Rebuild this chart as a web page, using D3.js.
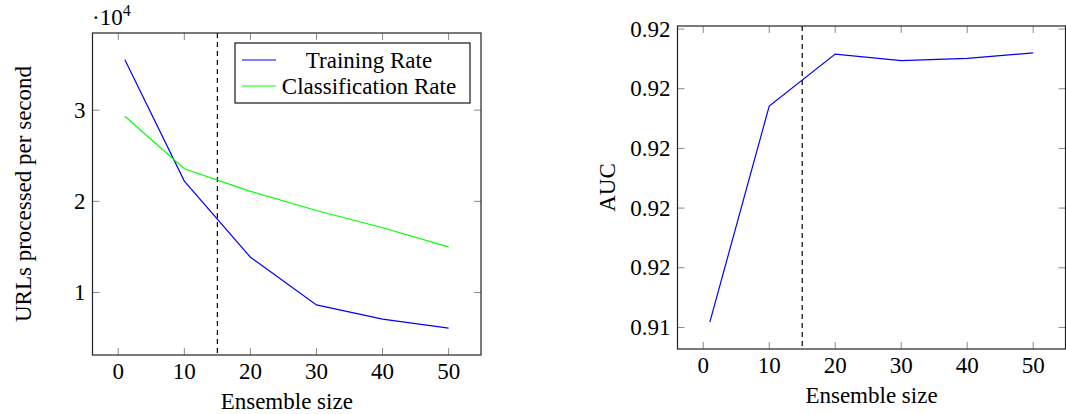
<!DOCTYPE html>
<html>
<head>
<meta charset="utf-8">
<script src="https://cdn.jsdelivr.net/npm/d3@7"></script>
<style>
  body { margin: 0; background: #fff; }
</style>
</head>
<body>
<svg id="chart" width="1066" height="414"></svg>
<script>
// data
const ensembleSizes = [1, 10, 20, 30, 40, 50];
const trainingRate = [35520, 22220, 13870, 8640, 7080, 6090];
const classificationRate = [29340, 23580, 21100, 19000, 17100, 15000];
const auc = [0.91409, 0.91771, 0.91858, 0.91847, 0.91851, 0.91860];
const selectedSize = 15;

const xTicks = [0, 10, 20, 30, 40, 50];
const rateTicks = [10000, 20000, 30000];
const rateTickLabels = ["1", "2", "3"];
const aucTicks = [0.914, 0.915, 0.916, 0.917, 0.918, 0.919];
const aucTickLabels = ["0.91", "0.92", "0.92", "0.92", "0.92", "0.92"];

const fontFamily = "Liberation Serif";
const fontSize = 23;
const tickLen = 7;
const svg = d3.select("#chart")
  .attr("font-family", fontFamily)
  .attr("font-size", fontSize);

// pgfplots style: 10% enlargement on both sides
function enlarge(ext) {
  const r = ext[1] - ext[0];
  return [ext[0] - 0.1 * r, ext[1] + 0.1 * r];
}

function label(sel) {
  return sel.append("text")
    .attr("font-family", fontFamily)
    .attr("font-size", fontSize)
    .attr("fill", "#000");
}

function drawPanel(box, series, yTicks, yTickLabels, yLabel, yLabelX) {
  const g = svg.append("g");
  const x = d3.scaleLinear()
    .domain(enlarge(d3.extent(ensembleSizes)))
    .range([box.left, box.right]);
  const allY = series.flatMap(s => s.values);
  const y = d3.scaleLinear()
    .domain(enlarge(d3.extent(allY)))
    .range([box.bottom, box.top]);

  // ticks, inside on all four sides
  const tickStyle = sel => sel.attr("stroke", "#8a8a8a").attr("stroke-width", 1);
  xTicks.forEach(t => {
    g.append("line").attr("x1", x(t)).attr("x2", x(t))
      .attr("y1", box.bottom).attr("y2", box.bottom - tickLen).call(tickStyle);
    g.append("line").attr("x1", x(t)).attr("x2", x(t))
      .attr("y1", box.top).attr("y2", box.top + tickLen).call(tickStyle);
    label(g).attr("x", x(t)).attr("y", box.bottom + 24)
      .attr("text-anchor", "middle").text(t);
  });
  yTicks.forEach((t, i) => {
    g.append("line").attr("x1", box.left).attr("x2", box.left + tickLen)
      .attr("y1", y(t)).attr("y2", y(t)).call(tickStyle);
    g.append("line").attr("x1", box.right).attr("x2", box.right - tickLen)
      .attr("y1", y(t)).attr("y2", y(t)).call(tickStyle);
    label(g).attr("x", box.left - 7).attr("y", y(t)).attr("dy", "0.33em")
      .attr("text-anchor", "end").text(yTickLabels[i]);
  });

  // dashed marker at the chosen ensemble size
  g.append("line")
    .attr("x1", x(selectedSize)).attr("x2", x(selectedSize))
    .attr("y1", box.top).attr("y2", box.bottom)
    .attr("stroke", "#000").attr("stroke-width", 1.2)
    .attr("stroke-dasharray", "5,4");

  const line = d3.line().x((d, i) => x(ensembleSizes[i])).y(d => y(d));
  series.forEach(s => {
    g.append("path").datum(s.values)
      .attr("fill", "none").attr("stroke", s.color).attr("stroke-width", 1.2)
      .attr("d", line);
  });

  // frame
  g.append("rect")
    .attr("x", box.left).attr("y", box.top)
    .attr("width", box.right - box.left).attr("height", box.bottom - box.top)
    .attr("fill", "none").attr("stroke", "#222").attr("stroke-width", 1.2);

  label(g)
    .attr("x", (box.left + box.right) / 2).attr("y", box.bottom + 54)
    .attr("text-anchor", "middle")
    .text("Ensemble size");

  label(g)
    .attr("transform", `translate(${yLabelX},${(box.top + box.bottom) / 2}) rotate(-90)`)
    .attr("text-anchor", "middle")
    .text(yLabel);

  return { g, x, y };
}

// left panel: throughput
const left = drawPanel(
  { left: 92.5, right: 481, top: 33, bottom: 355 },
  [
    { name: "Training Rate", values: trainingRate, color: "#0000ff" },
    { name: "Classification Rate", values: classificationRate, color: "#00ff00" }
  ],
  rateTicks, rateTickLabels, "URLs processed per second", 31
);

// scale factor label
const sf = label(left.g).attr("x", 92).attr("y", 25);
sf.append("tspan").text("·10");
sf.append("tspan").attr("dy", -9).attr("font-size", 16).text("4");

// legend
const legend = left.g.append("g");
legend.append("rect")
  .attr("x", 235).attr("y", 43).attr("width", 235).attr("height", 60)
  .attr("fill", "#fff").attr("stroke", "#000").attr("stroke-width", 1.1);
[
  { name: "Training Rate", color: "#0000ff" },
  { name: "Classification Rate", color: "#00ff00" }
].forEach((d, i) => {
  const cy = 60 + i * 26;
  legend.append("line")
    .attr("x1", 242).attr("x2", 276).attr("y1", cy).attr("y2", cy)
    .attr("stroke", d.color).attr("stroke-width", 1.2);
  label(legend)
    .attr("x", 369).attr("y", cy).attr("dy", "0.33em")
    .attr("text-anchor", "middle")
    .text(d.name);
});

// right panel: AUC
drawPanel(
  { left: 677.5, right: 1065.5, top: 26, bottom: 349 },
  [{ name: "AUC", values: auc, color: "#0000ff" }],
  aucTicks, aucTickLabels, "AUC", 615
);
</script>
</body>
</html>
